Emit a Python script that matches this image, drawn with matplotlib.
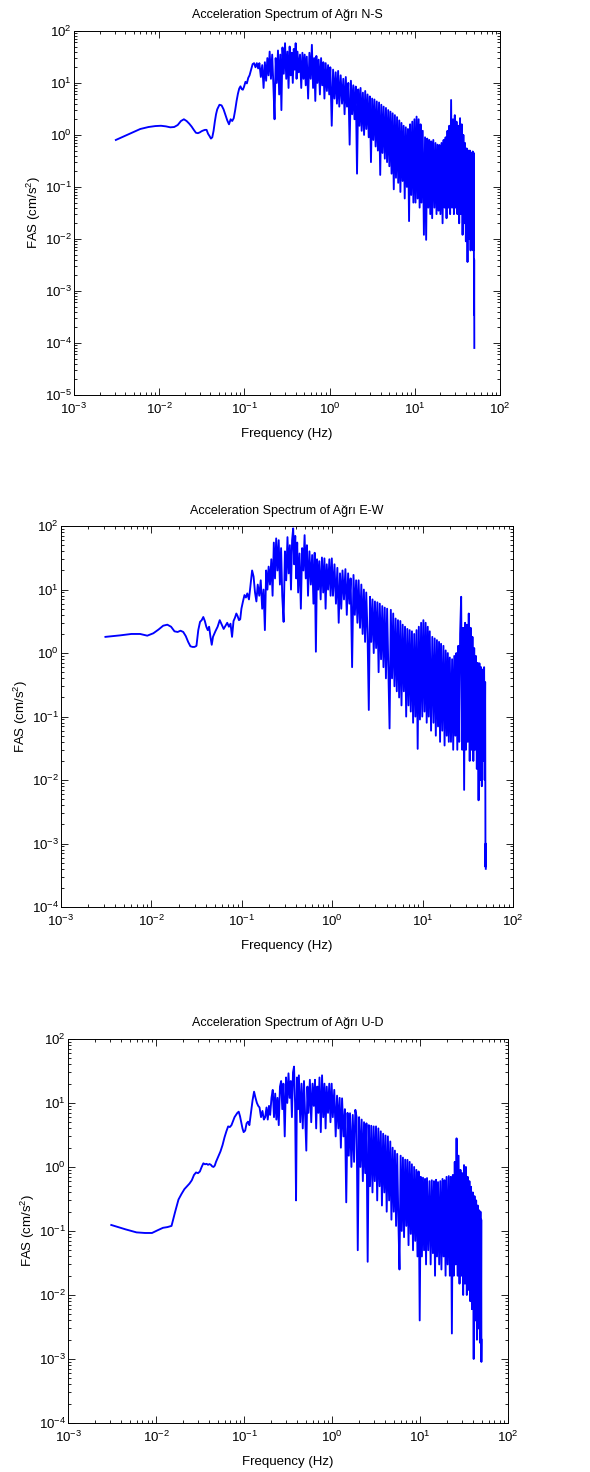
import matplotlib
matplotlib.use("Agg")
import matplotlib.pyplot as plt
from matplotlib.ticker import LogLocator, NullFormatter

plt.rcParams['font.family'] = ['Liberation Sans', 'DejaVu Sans']
plt.rcParams['mathtext.default'] = 'regular'

# frequency samples (Hz), shared by the three components
freq = [0.0031, 0.0045, 0.006, 0.0075, 0.009, 0.0105, 0.012, 0.0135, 0.015, 0.0165,
        0.018, 0.0195, 0.021, 0.0225, 0.024, 0.0255, 0.027, 0.0285, 0.030, 0.0315,
        0.033, 0.0345, 0.036, 0.0375, 0.039, 0.0405, 0.042, 0.0435, 0.045, 0.0465,
        0.048, 0.051, 0.054, 0.057, 0.060, 0.063, 0.066, 0.069, 0.072, 0.075,
        0.078, 0.081, 0.084, 0.087, 0.090, 0.093, 0.096, 0.099] + \
       [0.103, 0.107, 0.111, 0.115, 0.12, 0.125, 0.13, 0.135, 0.14, 0.145,
        0.15, 0.156, 0.162, 0.168, 0.174, 0.18, 0.186, 0.192, 0.198] + \
       [0.205, 0.212, 0.219, 0.226, 0.233, 0.24, 0.248, 0.256, 0.264, 0.272,
        0.28, 0.29, 0.30, 0.31, 0.32, 0.33, 0.34, 0.35, 0.36, 0.37,
        0.38, 0.39, 0.40, 0.41, 0.42, 0.435, 0.45, 0.465, 0.48, 0.495] + \
       [0.51, 0.525, 0.54, 0.56, 0.58, 0.60, 0.62, 0.64, 0.66, 0.68, 0.70,
        0.72, 0.745, 0.77, 0.795, 0.82, 0.845, 0.87, 0.90, 0.93, 0.96, 0.99] + \
       [1.02, 1.06, 1.10, 1.14, 1.18, 1.22, 1.26, 1.30, 1.35, 1.40,
        1.45, 1.50, 1.55, 1.60, 1.66, 1.72, 1.78, 1.84, 1.90, 1.96] + \
       [2.03, 2.10, 2.17, 2.24, 2.31, 2.38, 2.46, 2.54, 2.62, 2.70,
        2.79, 2.88, 2.97, 3.06, 3.16, 3.26, 3.36, 3.47, 3.58, 3.69,
        3.81, 3.93, 4.05, 4.18, 4.31, 4.45, 4.59, 4.73, 4.88] + \
       [5.03, 5.18, 5.34, 5.5, 5.67, 5.84, 6.02, 6.2, 6.39, 6.58, 6.78, 6.98,
        7.19, 7.4, 7.62, 7.85, 8.08, 8.32, 8.57, 8.82, 9.08, 9.35, 9.63, 9.91] + \
       [10.2, 10.5, 10.8, 11.1, 11.4, 11.7, 12.0, 12.4, 12.8, 13.2, 13.6, 14.0,
        14.4, 14.8, 15.2, 15.6, 16.0, 16.5, 17.0, 17.5, 18.0, 18.5, 19.0, 19.5] + \
       [20.0, 20.6, 21.2, 21.8, 22.4, 23.0, 23.6, 24.2, 24.8, 25.4,
        26.0, 26.7, 27.4, 28.1, 28.8, 29.5, 30.2, 30.9, 31.6,
        32.4, 33.2, 34.0, 34.8, 35.6, 36.4, 37.2, 38.0,
        38.9, 39.8, 40.7, 41.6, 42.5, 43.4, 44.3, 45.2, 46.1, 47.0,
        47.9, 48.6, 49.2, 49.6, 49.8, 50.0]

# Fourier amplitude spectra (cm/s^2)
fas_ns = [0.80, 1.05, 1.30, 1.42, 1.48, 1.50, 1.46, 1.40, 1.42, 1.55,
          1.85, 2.0, 1.85, 1.65, 1.45, 1.25, 1.10, 1.08, 1.12, 1.18,
          1.22, 1.25, 1.25, 1.05, 0.95, 0.85, 0.90, 1.2, 1.8, 2.5,
          3.1, 3.8, 3.7, 3.1, 2.4, 1.9, 1.6, 2.0, 1.85, 2.1,
          3.0, 4.5, 6.2, 7.8, 8.6, 7.6, 7.4, 8.4] + \
         [10.5, 9.8, 12.5, 14, 18, 23, 24, 20, 24, 19, 24, 13, 22, 8, 25, 11, 30, 14, 40] + \
         [12, 35, 9, 2.0, 30, 10, 42, 6, 35, 3.0, 48, 15, 58, 12, 40,
          8, 50, 14, 38, 10, 45, 18, 58, 12, 40, 16, 35, 8, 38, 12] + \
         [35, 9, 32, 5, 38, 12, 54, 8, 30, 4.5, 33, 10, 28, 6, 30, 9, 25, 5, 24, 7, 22, 6] + \
         [20, 1.5, 18, 5, 16, 4, 17, 3.5, 14, 4, 12, 2.5, 13, 3.5, 10, 0.65, 11, 2.5, 9, 2.0] + \
         [8.5, 0.18, 7.5, 1.5, 8, 1.2, 6.5, 1.0, 7, 1.3, 6, 0.9, 5.5, 0.3, 5,
          0.8, 4.8, 0.6, 4.4, 0.5, 4.2, 0.17, 3.8, 0.45, 3.5, 0.35, 3.3, 0.3, 3.0] + \
         [0.25, 2.8, 0.18, 2.6, 0.09, 2.4, 0.15, 2.2, 0.12, 1.9, 0.08, 1.7,
          0.13, 1.5, 0.06, 1.4, 0.1, 1.3, 0.022, 1.6, 0.07, 1.8, 0.05, 2.0] + \
         [0.05, 2.25, 0.06, 2.0, 0.04, 1.6, 0.05, 1.2, 0.012, 0.9, 0.0096, 0.85,
          0.04, 0.8, 0.03, 0.75, 0.025, 0.8, 0.04, 0.7, 0.03, 0.65, 0.035, 0.64] + \
         [0.03, 0.7, 0.02, 0.8, 0.04, 0.9, 0.025, 1.2, 0.04, 1.5,
          0.03, 4.7, 0.04, 2.0, 0.03, 2.4, 0.04, 1.8, 0.03,
          1.5, 0.02, 2.1, 0.03, 1.6, 0.012, 1.0, 0.02,
          0.7, 0.009, 0.55, 0.0036, 0.5, 0.01, 0.5, 0.006, 0.45, 0.012,
          0.48, 0.006, 0.45, 0.00035, 0.004, 8e-5]

fas_ew = [1.80, 1.90, 2.00, 2.0, 1.88, 2.05, 2.35, 2.7, 2.8, 2.6,
          2.2, 2.15, 2.25, 2.15, 1.85, 1.5, 1.28, 1.25, 1.25, 1.30,
          2.3, 3.1, 3.3, 3.7, 3.2, 2.6, 2.3, 2.6, 1.8, 1.35,
          1.8, 2.2, 2.6, 3.3, 2.8, 2.4, 2.7, 3.0, 2.6, 2.9,
          1.8, 3.2, 3.6, 4.2, 3.8, 3.3, 3.4, 5.0] + \
         [6.5, 8.2, 7.5, 8.7, 7.0, 12, 20, 16, 9, 6.5, 12, 8, 14, 5, 10, 2.3, 20, 10, 23] + \
         [12, 30, 8, 55, 15, 64, 20, 60, 12, 45, 8, 3.1, 40, 14, 67,
          18, 50, 10, 60, 92, 25, 70, 15, 55, 9, 37, 5, 45, 20, 72] + \
         [15, 50, 8, 40, 12, 35, 6, 38, 1.05, 30, 10, 28, 7, 32, 9, 31, 5, 25, 10, 30, 8, 31] + \
         [8, 25, 6, 22, 3, 18, 5, 20, 7, 21, 4, 18, 6, 15, 0.6, 17, 4, 14, 3, 14] + \
         [2.5, 12, 2, 10, 1.5, 9, 2, 0.127, 7.7, 1.5, 7, 1, 6.5, 1.2, 6.3,
          0.5, 6, 0.8, 5.5, 0.6, 5.2, 0.4, 5, 0.5, 0.065, 4.8, 0.4, 4.2, 0.3] + \
         [3.5, 0.25, 3.3, 0.2, 3.2, 0.15, 2.8, 0.25, 2.6, 0.1, 2.4, 0.15,
          2.3, 0.12, 2.2, 0.08, 2.0, 0.1, 2.3, 0.031, 2.6, 0.09, 3.0, 0.1] + \
         [3.3, 0.12, 3.0, 0.08, 2.6, 0.1, 2.2, 0.06, 1.8, 0.08, 1.7, 0.05,
          1.6, 0.07, 1.5, 0.04, 1.4, 0.06, 1.3, 0.035, 1.1, 0.05, 1.0, 0.04] + \
         [0.85, 0.04, 0.8, 0.03, 0.9, 0.05, 1.0, 0.03, 1.3, 0.04,
          2.0, 7.7, 0.03, 2.5, 0.007, 3.0, 0.03, 2.8, 0.04,
          4.2, 0.02, 2.5, 0.03, 1.8, 0.02, 1.2, 0.03,
          0.9, 0.015, 0.7, 0.0048, 0.69, 0.01, 0.6, 0.008, 0.55, 0.02,
          0.6, 0.01, 0.35, 0.00043, 0.001, 0.0004]

fas_ud = [0.124, 0.106, 0.095, 0.093, 0.093, 0.103, 0.112, 0.115, 0.12, 0.20,
          0.31, 0.38, 0.45, 0.50, 0.55, 0.62, 0.75, 0.82, 0.80, 0.85,
          1.0, 1.14, 1.10, 1.12, 1.08, 1.11, 1.08, 1.02, 1.0, 1.05,
          1.2, 1.45, 1.75, 2.2, 2.9, 3.6, 4.3, 4.2, 4.5, 5.2,
          6.0, 6.5, 7.0, 7.3, 6.2, 5.0, 4.0, 3.5] + \
         [3.7, 4.8, 5.1, 4.5, 7, 11, 15, 12, 10, 9, 8.5, 6, 7.5, 5.5, 6, 8.5, 5.5, 9, 6.5] + \
         [12, 16, 6, 14, 5.5, 12, 4.5, 18, 22, 8, 20, 3.0, 25, 10, 29,
          12, 22, 6, 30, 37, 10, 0.3, 25, 8, 27, 5, 20, 4, 22, 6] + \
         [1.8, 18, 7, 23, 5, 20, 9, 23, 4, 18, 7, 25, 3.5, 27, 6, 20, 4, 18, 7, 20, 5, 20] + \
         [6, 16, 3, 13, 4, 12, 2, 11.8, 3, 8, 0.28, 7, 1.5, 6.9, 1, 6.5, 1.2, 7.8, 6, 0.05] + \
         [6, 1.0, 5.5, 0.6, 5, 0.8, 4.8, 0.033, 4.5, 0.5, 4.4, 0.4, 4.3, 0.6, 4.3,
          0.3, 4, 0.5, 3.6, 0.25, 3.3, 0.4, 3.1, 0.2, 3.0, 0.3, 2.5, 0.15, 2.0] + \
         [0.2, 1.8, 0.12, 1.6, 0.15, 0.025, 1.5, 0.1, 1.4, 0.08, 1.3, 0.12,
          1.29, 0.06, 1.2, 0.09, 1.1, 0.05, 1.0, 0.07, 0.9, 0.04, 0.85, 0.004] + \
         [0.7, 0.04, 0.68, 0.05, 0.65, 0.03, 0.67, 0.05, 0.6, 0.03, 0.62, 0.045,
          0.6, 0.02, 0.63, 0.04, 0.58, 0.03, 0.6, 0.025, 0.65, 0.04, 0.62, 0.02] + \
         [0.7, 0.03, 0.72, 0.02, 0.7, 0.0025, 0.75, 0.02, 1.2, 0.03,
          2.8, 0.02, 1.5, 0.015, 0.9, 0.02, 0.8, 0.01, 1.07,
          0.015, 1.0, 0.01, 0.7, 0.012, 0.6, 0.008, 0.49,
          0.006, 0.4, 0.001, 0.35, 0.004, 0.3, 0.002, 0.25, 0.003, 0.21,
          0.0018, 0.2, 0.003, 0.15, 0.0009, 0.002]

titles = ["Acceleration Spectrum of Ağrı N-S",
          "Acceleration Spectrum of Ağrı E-W",
          "Acceleration Spectrum of Ağrı U-D"]
ylims = [(1e-5, 1e2), (1e-4, 1e2), (1e-4, 1e2)]

# axes boxes in figure fraction [left, bottom, width, height]
boxes = [[0.1254, 0.7317, 0.7220, 0.2473],
         [0.1034, 0.3838, 0.7661, 0.2588],
         [0.1153, 0.0333, 0.7458, 0.2609]]

fig = plt.figure(figsize=(5.9, 14.72), dpi=100)

for box, fas, title, ylim in zip(boxes, [fas_ns, fas_ew, fas_ud], titles, ylims):
    ax = fig.add_axes(box)
    ax.plot(freq, fas, color='#0000ff', lw=1.35)
    ax.set_xscale('log')
    ax.set_yscale('log')
    ax.set_xlim(1e-3, 1e2)
    ax.set_ylim(*ylim)
    ax.xaxis.set_minor_locator(LogLocator(base=10, subs=range(2, 10), numticks=20))
    ax.yaxis.set_minor_locator(LogLocator(base=10, subs=range(2, 10), numticks=20))
    ax.xaxis.set_minor_formatter(NullFormatter())
    ax.yaxis.set_minor_formatter(NullFormatter())
    ax.tick_params(which='both', direction='in', top=True, right=True, labelsize=9.5, width=0.6)
    ax.tick_params(which='major', length=5)
    ax.tick_params(which='minor', length=2.5)
    ax.tick_params(axis='x', which='major', pad=5)
    ax.tick_params(axis='y', which='major', pad=1.5)
    for s in ax.spines.values():
        s.set_linewidth(0.7)
    ax.set_title(title, fontsize=9, pad=9)
    ax.set_xlabel("Frequency (Hz)", fontsize=9.5, labelpad=8)
    ax.set_ylabel("FAS (cm/s$^2$)", fontsize=9.5, labelpad=1)

fig.savefig("out.png", dpi=100, facecolor='white')
